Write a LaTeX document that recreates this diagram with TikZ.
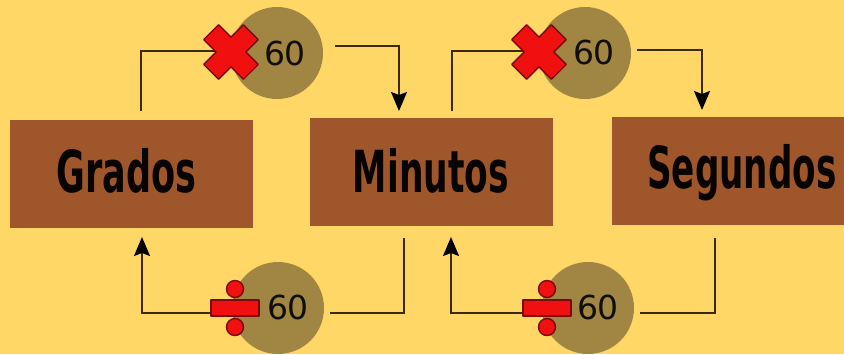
\documentclass[tikz,border=0pt]{standalone}
\usepackage{fontspec}
\setmainfont{DejaVu Sans}
\usetikzlibrary{arrows.meta}
\definecolor{bgc}{HTML}{FFD766}
\definecolor{boxc}{HTML}{A0562B}
\definecolor{circ}{HTML}{A08642}
\definecolor{linec}{HTML}{3A2A08}
\definecolor{redc}{HTML}{F01010}
\definecolor{redl}{HTML}{7A0A0A}
\tikzset{
  unitbox/.style={fill=boxc,draw=none,minimum width=#1,minimum height=108pt,inner sep=0pt,
    text height=45pt,text=black!95!boxc,font=\bfseries\fontsize{58}{58}\selectfont},
  disc/.style={circle,fill=circ,minimum size=92pt,inner sep=0pt},
  num/.style={font=\fontsize{33}{33}\selectfont,text=black!90!circ,inner sep=0pt},
  conn/.style={draw=linec,line width=2pt,line join=miter},
  arr/.style={conn,-{Stealth[length=19pt,width=16pt,inset=3pt,black]}},
  redsym/.style={fill=redc,draw=redl,line width=1.4pt,line join=round},
  pics/times/.style={code={
    \path[redsym,rotate=45] (-28,-10.5) -- (-10.5,-10.5) -- (-10.5,-28) -- (10.5,-28) -- (10.5,-10.5) -- (28,-10.5)
      -- (28,10.5) -- (10.5,10.5) -- (10.5,28) -- (-10.5,28) -- (-10.5,10.5) -- (-28,10.5) -- cycle;
  }},
  pics/divide/.style={code={
    \path[redsym] (0,-19) circle (8.5);
    \path[redsym] (0,19) circle (8.5);
    \path[redsym] (-24,-8) rectangle (24,8);
  }}
}
\begin{document}
\begin{tikzpicture}[x=1pt,y=-1pt]
\useasboundingbox[fill=bgc] (0,0) rectangle (844,354);
% boxes
\node[unitbox=243pt,text depth=8pt] (gr) at (131.5,173.5) {\hspace{-10pt}\scalebox{0.605}[1]{Grados}};
\node[unitbox=243pt,text depth=4pt] (mi) at (431,171.5) {\scalebox{0.595}[1]{Minutos}};
\node[unitbox=232pt,text depth=11pt] (se) at (728,171) {\hspace{28pt}\scalebox{0.59}[1]{Segundos}};
% discs
\node[disc] (c1) at (277,53) {};
\node[disc] (c2) at (585,53) {};
\node[disc] (c3) at (278,308) {};
\node[disc] (c4) at (588,308) {};
\node[num] (n1) at (285,53) {60};
\node[num] (n2) at (594,52) {60};
\node[num] (n3) at (288,307) {60};
\node[num] (n4) at (598,307) {60};
% free connector ends
\coordinate (a1) at (141,111);
\coordinate (a2) at (215,51);
\coordinate (b1) at (335,46);
\coordinate (b2) at (399,111);
\coordinate (a3) at (452,111);
\coordinate (a4) at (523,51);
\coordinate (b3) at (637,50);
\coordinate (b4) at (702,110);
\coordinate (d1) at (404,238);
\coordinate (d2) at (330,313);
\coordinate (d3) at (215,313);
\coordinate (d4) at (142,237);
\coordinate (e1) at (715,238);
\coordinate (e2) at (640,313);
\coordinate (e3) at (527,313);
\coordinate (e4) at (451,237);
% connectors
\draw[conn] (a1) |- (a2);
\draw[arr] (b1) -| (b2);
\draw[conn] (a3) |- (a4);
\draw[arr] (b3) -| (b4);
\draw[conn] (d1) |- (d2);
\draw[arr] (d3) -| (d4);
\draw[conn] (e1) |- (e2);
\draw[arr] (e3) -| (e4);
% symbols
\pic at (231,52) {times};
\pic at (539,52) {times};
\pic at (235,308) {divide};
\pic at (547,308) {divide};
\end{tikzpicture}
\end{document}
